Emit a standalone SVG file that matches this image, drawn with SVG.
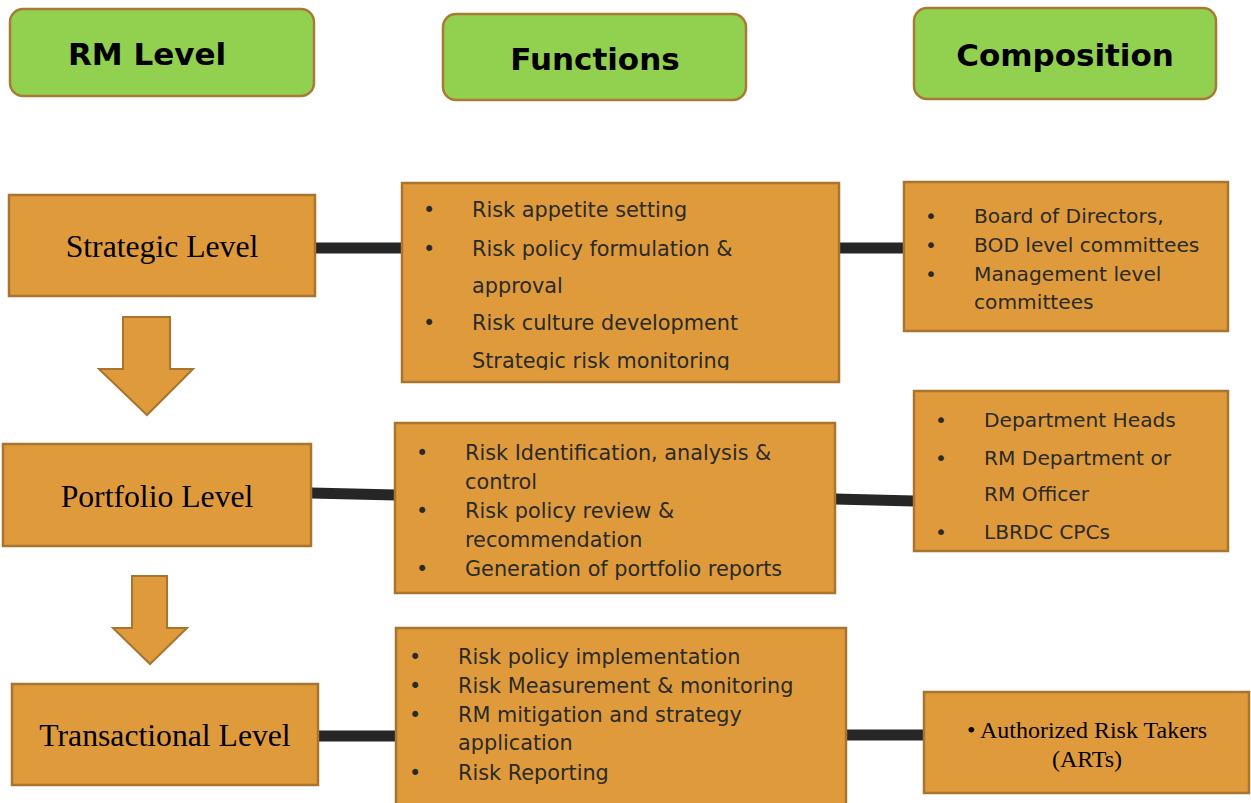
<svg xmlns="http://www.w3.org/2000/svg" width="1251" height="803" viewBox="0 0 1251 803">
  <style>
    .hdr { fill: #92D050; stroke: #A97A34; stroke-width: 2.5; }
    .box { fill: #DF9B3B; stroke: #A8742E; stroke-width: 2.5; }
    .arrow { fill: #DF9B3B; stroke: #A8742E; stroke-width: 2; }
    .conn { stroke: #262626; stroke-width: 11; fill: none; }
    .htxt { font-family: "DejaVu Sans", Verdana, sans-serif; font-weight: bold; font-size: 31px; fill: #000; text-anchor: middle; }
    .lvl { font-family: "Liberation Serif", "Times New Roman", serif; font-size: 31.7px; fill: #000; text-anchor: middle; }
    .fn { font-family: "DejaVu Sans", Verdana, sans-serif; font-size: 20.8px; fill: #2a2a2a; }
    .cp { font-family: "DejaVu Sans", Verdana, sans-serif; font-size: 20.2px; fill: #2a2a2a; }
    .art { font-family: "Liberation Serif", "Times New Roman", serif; font-size: 24px; fill: #000; text-anchor: middle; }
  </style>
  <defs>
    <clipPath id="clipF1">
      <rect x="402" y="183" width="437" height="187"/>
    </clipPath>
  </defs>
  <rect width="1251" height="803" fill="#ffffff"/>

  <g id="connectors">
    <line class="conn" x1="315" y1="248" x2="402" y2="248"/>
    <line class="conn" x1="839" y1="248" x2="904" y2="248"/>
    <line class="conn" x1="311" y1="493" x2="396" y2="495"/>
    <line class="conn" x1="835" y1="499" x2="914" y2="501"/>
    <line class="conn" x1="318" y1="736" x2="397" y2="736"/>
    <line class="conn" x1="846" y1="735" x2="924" y2="735"/>
  </g>

  <g id="hdr-rmlevel">
    <rect class="hdr" x="10" y="9" width="304" height="87" rx="13"/>
    <text class="htxt" x="147" y="65">RM Level</text>
  </g>
  <g id="hdr-functions">
    <rect class="hdr" x="443" y="14" width="303" height="86" rx="13"/>
    <text class="htxt" x="595" y="70">Functions</text>
  </g>
  <g id="hdr-composition">
    <rect class="hdr" x="914" y="8" width="302" height="91" rx="13"/>
    <text class="htxt" x="1065" y="66">Composition</text>
  </g>

  <g id="lvl-strategic">
    <rect class="box" x="9" y="195" width="306" height="101"/>
    <text class="lvl" x="162" y="257">Strategic Level</text>
  </g>
  <g id="arrow-1">
    <polygon class="arrow" points="123,317 170,317 170,369 193,369 147,415 99,369 123,369"/>
  </g>
  <g id="lvl-portfolio">
    <rect class="box" x="3" y="444" width="308" height="102"/>
    <text class="lvl" x="157" y="507">Portfolio Level</text>
  </g>
  <g id="arrow-2">
    <polygon class="arrow" points="132,576 167,576 167,628 187,628 150,664 113,628 132,628"/>
  </g>
  <g id="lvl-transactional">
    <rect class="box" x="12" y="684" width="306" height="101"/>
    <text class="lvl" x="165" y="746">Transactional Level</text>
  </g>

  <g id="fn-strategic">
    <rect class="box" x="402" y="183" width="437" height="199"/>
    <g clip-path="url(#clipF1)">
      <text class="fn" x="423" y="217">•</text>
      <text class="fn" x="472" y="217">Risk appetite setting</text>
      <text class="fn" x="423" y="256">•</text>
      <text class="fn" x="472" y="256">Risk policy formulation &amp;</text>
      <text class="fn" x="472" y="293">approval</text>
      <text class="fn" x="423" y="330">•</text>
      <text class="fn" x="472" y="330">Risk culture development</text>
      <text class="fn" x="472" y="368">Strategic risk monitoring</text>
    </g>
  </g>
  <g id="fn-portfolio">
    <rect class="box" x="395" y="423" width="440" height="170"/>
    <text class="fn" x="416" y="460">•</text>
    <text class="fn" x="465" y="460">Risk Identification, analysis &amp;</text>
    <text class="fn" x="465" y="489">control</text>
    <text class="fn" x="416" y="518">•</text>
    <text class="fn" x="465" y="518">Risk policy review &amp;</text>
    <text class="fn" x="465" y="547">recommendation</text>
    <text class="fn" x="416" y="576">•</text>
    <text class="fn" x="465" y="576">Generation of portfolio reports</text>
  </g>
  <g id="fn-transactional">
    <rect class="box" x="396" y="628" width="450" height="185"/>
    <text class="fn" x="409" y="664">•</text>
    <text class="fn" x="458" y="664">Risk policy implementation</text>
    <text class="fn" x="409" y="693">•</text>
    <text class="fn" x="458" y="693">Risk Measurement &amp; monitoring</text>
    <text class="fn" x="409" y="722">•</text>
    <text class="fn" x="458" y="722">RM mitigation and strategy</text>
    <text class="fn" x="458" y="750">application</text>
    <text class="fn" x="409" y="780">•</text>
    <text class="fn" x="458" y="780">Risk Reporting</text>
  </g>

  <g id="cp-strategic">
    <rect class="box" x="904" y="182" width="324" height="149"/>
    <text class="cp" x="925" y="223">•</text>
    <text class="cp" x="974" y="223">Board of Directors,</text>
    <text class="cp" x="925" y="252">•</text>
    <text class="cp" x="974" y="252">BOD level committees</text>
    <text class="cp" x="925" y="281">•</text>
    <text class="cp" x="974" y="281">Management level</text>
    <text class="cp" x="974" y="309">committees</text>
  </g>
  <g id="cp-portfolio">
    <rect class="box" x="914" y="391" width="314" height="160"/>
    <text class="cp" x="935" y="427">•</text>
    <text class="cp" x="984" y="427">Department Heads</text>
    <text class="cp" x="935" y="465">•</text>
    <text class="cp" x="984" y="465">RM Department or</text>
    <text class="cp" x="984" y="501">RM Officer</text>
    <text class="cp" x="935" y="539">•</text>
    <text class="cp" x="984" y="539">LBRDC CPCs</text>
  </g>
  <g id="cp-transactional">
    <rect class="box" x="924" y="692" width="325" height="101"/>
    <text class="art" x="1087" y="738">• Authorized Risk Takers</text>
    <text class="art" x="1087" y="767">(ARTs)</text>
  </g>
</svg>
